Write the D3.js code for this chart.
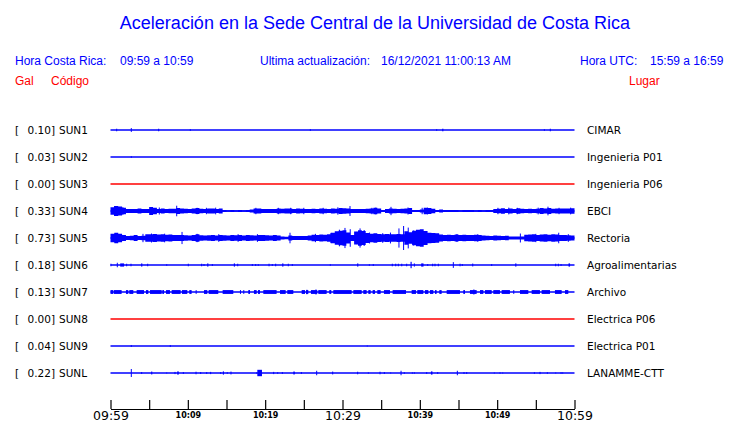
<!DOCTYPE html>
<html><head><meta charset="utf-8">
<script src="https://cdn.jsdelivr.net/npm/d3@7/dist/d3.min.js"></script>
<style>body{margin:0;background:#fff}svg{display:block}</style>
</head><body>
<svg id="c" width="740" height="423"></svg>
<script>
// ---------- DATA ----------
const codes = ["SUN1","SUN2","SUN3","SUN4","SUN5","SUN6","SUN7","SUN8","SUN9","SUNL"];
const peakGal = ["0.10","0.03","0.00","0.33","0.73","0.18","0.13","0.00","0.04","0.22"];
const places = ["CIMAR","Ingenieria P01","Ingenieria P06","EBCI","Rectoria","Agroalimentarias","Archivo","Electrica P06","Electrica P01","LANAMME-CTT"];
const tickMinutes = [0,5,10,15,20,25,30,35,40,45,50,55,60];
const tickLabels = {0:"09:59",10:"10:09",20:"10:19",30:"10:29",40:"10:39",50:"10:49",60:"10:59"};
const bigLabels = [0,30,60];

// envelopes (Gal), 0.5-minute bins
const sun4Env = [0.24,0.31,0.28,0.21,0.12,0.13,0.12,0.16,0.12,0.13,
 0.25,0.21,0.13,0.16,0.13,0.14,0.14,0.18,0.16,0.14,
 0.13,0.16,0.19,0.14,0.13,0.16,0.16,0.13,0.16,0.06,
 0.05,0.07,0.05,0.07,0.05,0.07,0.09,0.16,0.16,0.13,
 0.12,0.13,0.12,0.16,0.14,0.16,0.16,0.13,0.16,0.14,
 0.13,0.12,0.14,0.13,0.16,0.14,0.13,0.16,0.14,0.18,
 0.17,0.16,0.13,0.13,0.12,0.13,0.14,0.16,0.21,0.16,
 0.06,0.13,0.16,0.14,0.13,0.14,0.16,0.18,0.07,0.07,
 0.09,0.21,0.19,0.14,0.06,0.09,0.06,0.06,0.07,0.07,
 0.05,0.07,0.06,0.06,0.05,0.07,0.05,0.06,0.07,0.13,
 0.14,0.17,0.13,0.16,0.13,0.17,0.14,0.13,0.14,0.13,
 0.14,0.18,0.16,0.18,0.14,0.16,0.16,0.16,0.16,0.17];
const sun5Env = [0.26,0.33,0.26,0.19,0.13,0.14,0.19,0.13,0.14,0.23,
 0.24,0.25,0.22,0.23,0.21,0.22,0.19,0.18,0.19,0.17,
 0.16,0.18,0.23,0.17,0.16,0.17,0.18,0.16,0.19,0.17,
 0.16,0.18,0.17,0.19,0.16,0.18,0.17,0.16,0.18,0.19,
 0.17,0.16,0.18,0.16,0.09,0.08,0.16,0.12,0.12,0.13,
 0.12,0.16,0.21,0.19,0.22,0.21,0.23,0.33,0.42,0.45,
 0.48,0.34,0.18,0.40,0.48,0.44,0.32,0.27,0.30,0.25,
 0.23,0.25,0.24,0.23,0.25,0.23,0.42,0.36,0.46,0.52,
 0.55,0.44,0.33,0.31,0.29,0.22,0.19,0.21,0.19,0.22,
 0.18,0.21,0.19,0.18,0.21,0.19,0.16,0.14,0.13,0.16,
 0.14,0.13,0.14,0.09,0.10,0.09,0.10,0.21,0.22,0.23,
 0.19,0.22,0.24,0.21,0.23,0.22,0.19,0.18,0.17,0.16];
// bursts [startMin, endMin] (Gal amplitude shared below)
const sun7Bursts = [[0,0.37],[0.45,1.44],[2.0,2.3],[2.43,2.95],[3.38,4.33],[4.59,4.89],[5.11,6.62],[6.70,6.92],
 [7.18,7.69],[7.91,9.07],[9.24,9.93],[10.19,10.49],[11.01,11.1],[12.09,12.52],[12.69,13.94],[14.5,15.88],
 [16.74,16.83],[17.17,17.26],[17.82,18.04],[18.55,18.9],[19.07,19.33],[19.76,21.48],[21.92,22.65],[22.86,23.64],
 [24.72,25.15],[25.28,25.58],[25.92,26.74],[26.87,27.95],[28.29,28.55],[28.81,31.18],[31.4,32.48],[32.69,33.12],
 [33.34,33.64],[33.9,34.2],[34.5,34.93],[35.36,36.14],[36.48,38.21],[38.94,39.5],[39.67,40.45],[40.66,41.1],
 [41.31,41.74],[41.96,42.17],[42.52,42.82],[43.47,45.19],[45.62,45.84],[46.48,47.35],[47.78,48.21],[48.42,49.29],
 [49.5,50.36],[50.58,51.65],[52.08,52.17],[52.95,54.03],[54.46,55.53],[55.75,56.83],[57.47,58.34],[58.77,59.2]];
const sun7Level = 0.12;
// spikes [minute, amplitude Gal, duration min]
const sun1Spikes = [[0.8,0.08,0.1],[2.69,0.12,0.1],[6.23,0.08,0.1],[10.32,0.05,0.1],[25.84,0.05,0.1],[42.18,0.05,0.1],[42.96,0.08,0.15],[56.1,0.05,0.1],[56.87,0.08,0.1]];
const sun2Spikes = [[2.69,0.05,0.1]];
const sun3Spikes = [];
const sun4Spikes = [[0.52,0.31,0.1],[0.9,0.26,0.1],[1.6,0.24,0.1],[5.2,0.22,0.1],[6.31,0.22,0.1],[8.56,0.33,0.1],[11.2,0.2,0.1],
 [12.4,0.2,0.1],[13.6,0.21,0.1],[18.8,0.2,0.1],[21.7,0.2,0.1],[23.3,0.2,0.1],[25.0,0.2,0.1],[27.5,0.2,0.1],
 [29.4,0.23,0.1],[30.97,0.31,0.1],[33.8,0.2,0.1],[34.3,0.21,0.1],[36.27,0.26,0.1],[38.47,0.22,0.1],[40.3,0.2,0.1],
 [41.0,0.21,0.1],[50.1,0.2,0.1],[51.5,0.21,0.1],[52.6,0.2,0.1],[55.3,0.21,0.1],[56.57,0.27,0.1],[58.0,0.2,0.1],[59.5,0.21,0.1]];
const sun5Spikes = [[0.6,0.3,0.1],[4.2,0.26,0.1],[5.3,0.28,0.1],[7.0,0.27,0.1],[9.25,0.38,0.1],[11.2,0.26,0.1],[14.0,0.24,0.1],
 [16.5,0.24,0.1],[19.0,0.24,0.1],[23.21,0.33,0.1],[26.5,0.26,0.1],[28.5,0.32,0.1],[29.6,0.52,0.1],[30.32,0.63,0.1],
 [31.0,0.55,0.1],[31.8,0.38,0.1],[32.27,0.6,0.1],[32.8,0.5,0.1],[33.5,0.34,0.1],[35.2,0.3,0.1],[36.2,0.34,0.1],
 [37.3,0.6,0.1],[37.9,0.75,0.1],[38.5,0.65,0.1],[39.2,0.47,0.1],[40.4,0.35,0.1],[42.0,0.26,0.1],[44.8,0.25,0.1],
 [47.5,0.24,0.1],[53.0,0.28,0.1],[55.0,0.26,0.1],[57.96,0.33,0.1],[59.2,0.24,0.1]];
const sun6Spikes = [[0.06,0.08,0.1],[0.88,0.14,0.1],[1.32,0.1,0.5],[2.09,0.08,0.1],[2.65,0.08,0.1],[4.03,0.1,0.15],[4.81,0.08,0.1],
 [7.27,0.05,0.1],[10.06,0.08,0.1],[11.79,0.08,0.1],[12.09,0.06,0.1],[12.57,0.1,0.15],[13.17,0.06,0.1],[16.01,0.1,0.15],
 [16.45,0.08,0.1],[18.34,0.06,0.1],[18.77,0.06,0.1],[19.11,0.05,0.1],[20.5,0.08,0.1],[20.92,0.06,0.1],[21.36,0.08,0.1],
 [22.27,0.1,0.15],[22.99,0.08,0.1],[23.51,0.06,0.1],[28.42,0.05,0.1],[31.96,0.1,0.15],[33.47,0.05,0.1],[33.98,0.06,0.1],
 [36.44,0.08,0.1],[36.88,0.08,0.1],[37.22,0.08,0.1],[37.66,0.08,0.1],[38.3,0.08,0.1],[38.86,0.2,0.15],[39.29,0.1,0.1],
 [40.24,0.1,0.3],[41.02,0.06,0.1],[41.66,0.08,0.1],[41.96,0.08,0.1],[42.39,0.08,0.1],[44.33,0.18,0.1],[45.2,0.08,0.1],
 [45.49,0.06,0.1],[46.84,0.09,0.1],[49.29,0.06,0.1],[52.4,0.1,0.15],[57.57,0.08,0.1],[57.91,0.08,0.1],[58.26,0.06,0.1],[59.29,0.1,0.2]];
const sun7Spikes = [[25.4,0.14,0.1],[26.57,0.16,0.1],[46.99,0.16,0.1]];
const sun8Spikes = [];
const sun9Spikes = [[2.69,0.06,0.1],[7.73,0.06,0.1],[33.2,0.03,0.1]];
const sunLSpikes = [[2.69,0.25,0.1],[4.03,0.06,0.1],[5.32,0.09,0.15],[7.27,0.03,0.1],[8.34,0.07,0.1],[8.69,0.1,0.2],[9.42,0.06,0.1],
 [11.06,0.08,0.1],[11.66,0.06,0.1],[12.44,0.06,0.1],[12.95,0.07,0.1],[14.25,0.06,0.1],[14.59,0.1,0.15],[15.1,0.05,0.1],
 [15.58,0.09,0.1],[18.9,0.04,0.1],[19.05,0.2,0.6],[21.1,0.07,0.1],[21.62,0.05,0.1],[22.22,0.06,0.1],[23.7,0.09,0.2],
 [24.68,0.06,0.1],[26.66,0.14,0.1],[28.73,0.09,0.1],[31.96,0.08,0.1],[33.34,0.04,0.1],[34.85,0.08,0.1],[35.41,0.06,0.1],
 [36.23,0.03,0.1],[37.57,0.14,0.1],[37.99,0.05,0.1],[39.03,0.04,0.1],[39.29,0.04,0.1],[40.89,0.06,0.1],[41.5,0.1,0.2],
 [42.31,0.06,0.1],[44.85,0.14,0.1],[45.71,0.06,0.1],[46.06,0.06,0.1],[49.63,0.03,0.1],[50.37,0.04,0.1],[50.72,0.03,0.1],
 [54.81,0.05,0.1],[55.54,0.07,0.1],[56.49,0.05,0.1],[57.57,0.03,0.1],[58.26,0.05,0.1],[58.48,0.04,0.1]];
const spikes = [sun1Spikes,sun2Spikes,sun3Spikes,sun4Spikes,sun5Spikes,sun6Spikes,sun7Spikes,sun8Spikes,sun9Spikes,sunLSpikes];
const envelopes = {3: sun4Env, 4: sun5Env};
const envBin = 0.5;

// ---------- DRAW ----------
const svg = d3.select("#c");
const blue = "#0000ff", red = "#ff0000";
const x = d3.scaleLinear().domain([0,60]).range([110.5,574.5]);
const y = d3.scalePoint().domain(codes).range([130,373]);
const amp = d3.scaleLinear().domain([0,1]).range([0,16]);

// header
const hdr = svg.append("g").attr("font-family","'Liberation Sans', Arial, sans-serif").attr("fill",blue);
hdr.append("text").attr("x",375).attr("y",29).attr("text-anchor","middle").attr("font-size",18)
  .text("Aceleración en la Sede Central de la Universidad de Costa Rica");
const h2 = [["Hora Costa Rica:",15],["09:59 a 10:59",120],["Ultima actualización:",260],["16/12/2021 11:00:13 AM",381],["Hora UTC:",580],["15:59 a 16:59",650]];
hdr.selectAll("text.h2").data(h2).join("text").attr("class","h2").attr("x",d=>d[1]).attr("y",65).attr("font-size",12).text(d=>d[0]);
const h3 = [["Gal",15],["Código",51],["Lugar",629]];
hdr.selectAll("text.h3").data(h3).join("text").attr("class","h3").attr("x",d=>d[1]).attr("y",85).attr("font-size",12).attr("fill",red).text(d=>d[0]);

// labels
const lab = svg.append("g").attr("font-family","'DejaVu Sans', sans-serif").attr("font-size",10.5).attr("fill","#000");
codes.forEach((c,i)=>{
  const cy = y(c)+4;
  lab.append("text").attr("x",15).attr("y",cy).text("[");
  lab.append("text").attr("x",55).attr("y",cy).attr("text-anchor","end").text(peakGal[i]+"]");
  lab.append("text").attr("x",59).attr("y",cy).text(c);
  lab.append("text").attr("x",587).attr("y",cy).text(places[i]);
});

// traces
const tr = svg.append("g");
codes.forEach((c,i)=>{
  const cy = y(c);
  const col = +peakGal[i] === 0 ? red : blue;
  const g = tr.append("g");
  g.append("line").attr("x1",x(0)).attr("x2",x(60)).attr("y1",cy).attr("y2",cy)
    .attr("stroke",col).attr("stroke-width",1.3);
  if (envelopes[i]) {
    const env = envelopes[i];
    const pts = env.map((v,k)=>[k*envBin, v]);
    pts.push([60, env[env.length-1]]);
    const area = d3.area().x(d=>x(d[0])).y0(d=>cy-amp(d[1])).y1(d=>cy+amp(d[1])).curve(d3.curveStepAfter);
    g.append("path").attr("d",area(pts)).attr("fill",col);
  }
  if (i === 6) {
    g.selectAll("rect.b").data(sun7Bursts).join("rect").attr("class","b")
      .attr("x",d=>x(d[0])).attr("width",d=>Math.max(1,x(d[1])-x(d[0])))
      .attr("y",cy-amp(sun7Level)).attr("height",2*amp(sun7Level)).attr("fill",col);
  }
  g.selectAll("rect.s").data(spikes[i]).join("rect").attr("class","s")
    .attr("x",d=>x(d[0])-0.5).attr("width",d=>Math.max(1,x(d[0]+d[2])-x(d[0])))
    .attr("y",d=>cy-amp(d[1])).attr("height",d=>2*amp(d[1])).attr("fill",col);
});

// axis
const axis = d3.axisBottom(x).tickValues(tickMinutes).tickSizeInner(-9).tickSizeOuter(0).tickPadding(0)
  .tickFormat(m => tickLabels[m] || "");
const ax = svg.append("g").attr("transform","translate(0,409)").call(axis);
ax.select(".domain").attr("stroke","#000").attr("stroke-width",1.2);
ax.selectAll(".tick line").attr("stroke","#000").attr("stroke-width",1.2);
ax.selectAll(".tick text").attr("fill","#000").attr("font-family","'DejaVu Sans', sans-serif")
  .attr("font-size",m => bigLabels.includes(m) ? 12.5 : 8)
  .attr("font-weight",m => bigLabels.includes(m) ? "normal" : "bold")
  .attr("y",m => bigLabels.includes(m) ? 10.5 : 8.5).attr("dy",0);
</script>
</body></html>
